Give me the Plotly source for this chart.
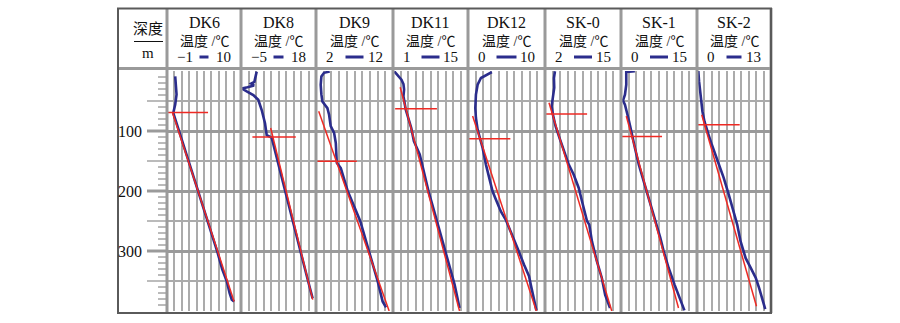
import plotly.graph_objects as go

# ---------------- data ----------------
wells = ["DK6", "DK8", "DK9", "DK11", "DK12", "SK-0", "SK-1", "SK-2"]
t_min = [-1, -5, 2, 1, 0, 2, 0, 0]
t_max = [10, 18, 12, 15, 10, 15, 15, 13]
min_labels = ["−1", "−5", "2", "1", "0", "2", "0", "0"]
max_labels = ["10", "18", "12", "15", "10", "15", "15", "13"]
depth_labels = [100, 200, 300]

# measured temperature profiles (depth m, temperature °C)
dk6_depth = [9, 23, 39, 56, 70, 99, 151, 199, 251, 300, 330, 351, 370, 381, 384]
dk6_temp = [0.22, 0.32, 0.42, 0.22, -0.07, 0.76, 2.25, 3.64, 5.11, 6.45, 7.2, 7.9, 8.3, 8.63, 8.97]

dk8_depth = [1, 15, 18, 21, 24, 27, 29, 34, 40, 48, 65, 87, 107, 111, 150, 200, 250, 300, 350, 379]
dk8_temp = [-0.19, -0.7, -0.9, -1.9, -1.0, -3.0, -4.8, -3.25, -1.23, 0.3, 1.35, 2.36, 2.88, 4.41,
            6.18, 8.52, 10.87, 13.22, 15.57, 16.96]

dk9_depth = [1, 3, 9, 23, 39, 51, 62, 73, 92, 103, 120, 139, 153, 162, 199, 250, 300, 350, 384, 394]
dk9_temp = [3.78, 3.04, 2.70, 2.61, 2.70, 2.83, 3.48, 3.70, 3.91, 4.35, 4.57, 4.70, 4.70, 5.22,
            6.09, 7.74, 8.91, 10.0, 10.65, 11.09]

dk11_depth = [0.6, 7.2, 14.4, 21.7, 31, 42, 53, 64, 95, 117, 139, 162, 200.6, 239, 278, 328, 356, 395]
dk11_temp = [1.24, 1.85, 2.58, 2.95, 3.07, 2.95, 3.19, 3.37, 4.41, 4.90, 5.99, 6.60, 7.63, 8.85,
             10.07, 11.59, 12.50, 13.42]

dk12_depth = [1.7, 6.1, 11.7, 22.8, 39.4, 61.7, 78.3, 97.8, 111.7, 128.3, 156, 178, 200.6, 214, 234,
              248, 267, 295, 323, 342, 356, 384, 399]
dk12_temp = [3.10, 2.41, 1.68, 1.25, 1.03, 0.95, 1.03, 1.25, 1.55, 1.90, 2.33, 2.76, 3.19, 3.62, 4.27,
             4.91, 5.56, 6.42, 7.28, 7.93, 8.15, 8.58, 8.88]

sk0_depth = [0.5, 11.7, 28, 45, 59, 73, 92, 112, 134, 156, 173, 195, 217, 250, 256, 284, 317, 345, 373, 395]
sk0_temp = [3.70, 3.53, 3.58, 3.36, 3.13, 3.36, 3.81, 4.49, 5.22, 6.07, 6.92, 7.77, 8.33, 9.18, 9.57,
            10.03, 10.87, 11.72, 12.29, 13.13]

sk1_depth = [0.5, 1.5, 6, 22.8, 39.4, 49.4, 56, 67, 78, 95, 109, 128, 156, 184, 212, 228, 256, 278,
             300, 328, 356, 373, 389, 399]
sk1_temp = [2.74, 1.04, 1.04, 1.04, 0.78, 0.39, 0.78, 1.04, 1.43, 1.89, 2.22, 2.74, 3.52, 4.50, 5.48,
            6.13, 7.11, 7.76, 8.41, 9.39, 10.57, 11.35, 12.13, 12.52]

sk2_depth = [0.6, 1.2, 17, 34, 50.6, 67, 84, 92, 106, 123, 139, 162, 178, 206, 234, 256, 284, 312,
             328, 345, 362, 384, 394, 397]
sk2_temp = [-0.65, 0.24, 0.36, 0.53, 0.83, 0.95, 1.31, 1.54, 2.02, 2.61, 3.21, 4.10, 4.69, 5.58,
            6.47, 7.06, 7.66, 8.55, 9.44, 10.33, 10.92, 11.52, 11.81, 11.99]

profile_depths = [dk6_depth, dk8_depth, dk9_depth, dk11_depth, dk12_depth, sk0_depth, sk1_depth, sk2_depth]
profile_temps = [dk6_temp, dk8_temp, dk9_temp, dk11_temp, dk12_temp, sk0_temp, sk1_temp, sk2_temp]

# red fitted gradient lines: (start depth, end depth), (start temp, end temp)
fit_depth = [[70, 384], [95, 381], [67, 400], [27, 400], [75, 400], [53, 400], [75, 395], [73, 392]]
fit_temp = [[-0.17, 8.97], [4.1, 17.0], [2.35, 11.5], [2.34, 13.42], [0.6, 8.88], [2.68, 13.42],
            [1.04, 11.35], [0.83, 10.45]]

# red horizontal markers: depth, temp from, temp to
mark_depth = [69, 110, 150.6, 63, 112.8, 71.7, 109, 89.4]
mark_t0 = [-1, -1.5, 2, 1.4, 0, 2.1, 0, 0]
mark_t1 = [5.1, 11.8, 7.3, 9.2, 5.5, 9.2, 8.1, 7.5]

# ---------------- layout helpers ----------------
W, H = 900, 323
def px(x):
    return x / W
def py(y):
    return 1 - y / H

edges = [167, 241, 316, 393, 468, 545, 621, 697, 771]
Y_TOP, Y_BOT = 71, 311
BLUE = "#2b2d8c"
RED = "#ee2a24"
SERIF = "Liberation Serif, Noto Sans CJK SC, serif"

fig = go.Figure()
layout = dict(
    width=W, height=H, margin=dict(l=0, r=0, t=0, b=0),
    paper_bgcolor="white", plot_bgcolor="white", showlegend=False,
)

for i, name in enumerate(wells):
    xa = "x" if i == 0 else f"x{i+1}"
    key = "xaxis" if i == 0 else f"xaxis{i+1}"
    layout[key] = dict(
        domain=[px(edges[i]), px(edges[i + 1])], range=[t_min[i], t_max[i]],
        anchor="y", showticklabels=False, ticks="", showgrid=True,
        gridcolor="#ababab", gridwidth=1.6, tick0=t_min[i],
        dtick=(t_max[i] - t_min[i]) / 10, zeroline=False, showline=False,
    )
    fig.add_trace(go.Scatter(x=profile_temps[i], y=profile_depths[i], mode="lines",
                             line=dict(color=BLUE, width=2.6), xaxis=xa, yaxis="y",
                             hoverinfo="skip"))
    fig.add_trace(go.Scatter(x=fit_temp[i], y=fit_depth[i], mode="lines",
                             line=dict(color=RED, width=1.5), xaxis=xa, yaxis="y",
                             hoverinfo="skip"))
    fig.add_trace(go.Scatter(x=[mark_t0[i], mark_t1[i]], y=[mark_depth[i], mark_depth[i]],
                             mode="lines", line=dict(color=RED, width=1.5), xaxis=xa, yaxis="y",
                             hoverinfo="skip", cliponaxis=False))

layout["yaxis"] = dict(
    domain=[py(Y_BOT), py(Y_TOP)], range=[400, 0], anchor="x", showticklabels=False,
    ticks="", showgrid=True, gridcolor="#9a9a9a", gridwidth=3, dtick=100, tick0=0,
    minor=dict(dtick=50, tick0=0, showgrid=True, gridcolor="#ababab", gridwidth=1.6),
    zeroline=False, showline=False,
)
fig.update_layout(**layout)

shapes = []
annotations = []

def note(text, x, y, size, xanchor="center", yref="paper"):
    annotations.append(dict(text=text, x=px(x), y=(py(y) if yref == "paper" else y), xref="paper",
                            yref=yref, xanchor=xanchor, yanchor="middle", showarrow=False,
                            font=dict(family=SERIF, size=size, color="#111")))

# depth column ticks
for d in range(10, 400, 10):
    if d % 100 == 0:
        shapes.append(dict(type="line", xref="paper", yref="y", x0=px(147), x1=px(167), y0=d, y1=d,
                           line=dict(color="#9a9a9a", width=3)))
    elif d % 50 == 0:
        shapes.append(dict(type="line", xref="paper", yref="y", x0=px(147), x1=px(167), y0=d, y1=d,
                           line=dict(color="#ababab", width=1.6)))
    else:
        shapes.append(dict(type="line", xref="paper", yref="y", x0=px(158), x1=px(166), y0=d, y1=d,
                           line=dict(color="#777", width=1)))
for d in depth_labels:
    note(str(d), 144, d, 16, xanchor="right", yref="y")

# frame / separators
for e in edges:
    shapes.append(dict(type="line", xref="paper", yref="paper", x0=px(e), x1=px(e), y0=py(8), y1=py(313),
                       line=dict(color="#9a9a9a", width=3)))
shapes.append(dict(type="line", xref="paper", yref="paper", x0=px(117), x1=px(771), y0=py(68.5), y1=py(68.5),
                   line=dict(color="#9a9a9a", width=3)))
shapes.append(dict(type="rect", xref="paper", yref="paper", x0=px(118), x1=px(771), y0=py(8.5), y1=py(313),
                   line=dict(color="#5a5a5a", width=2)))

# depth header
note("深度", 148, 29, 15)
shapes.append(dict(type="line", xref="paper", yref="paper", x0=px(134), x1=px(163), y0=py(41.5), y1=py(41.5),
                   line=dict(color="#111", width=1)))
note("m", 148, 53, 15)

dash_len = [9, 10, 18, 18, 20, 18, 18, 15]
for i, name in enumerate(wells):
    cx = (edges[i] + edges[i + 1]) / 2
    note(name, cx, 22, 16)
    note("温度 /℃", cx, 41, 14)
    note(min_labels[i], edges[i] + 8, 57, 15, xanchor="left")
    note(max_labels[i], edges[i + 1] - 8, 57, 15, xanchor="right")
    shapes.append(dict(type="line", xref="paper", yref="paper", x0=px(cx - dash_len[i] / 2),
                       x1=px(cx + dash_len[i] / 2), y0=py(57), y1=py(57), line=dict(color=BLUE, width=3)))

fig.update_layout(shapes=shapes, annotations=annotations)
fig.write_html("out.html")
